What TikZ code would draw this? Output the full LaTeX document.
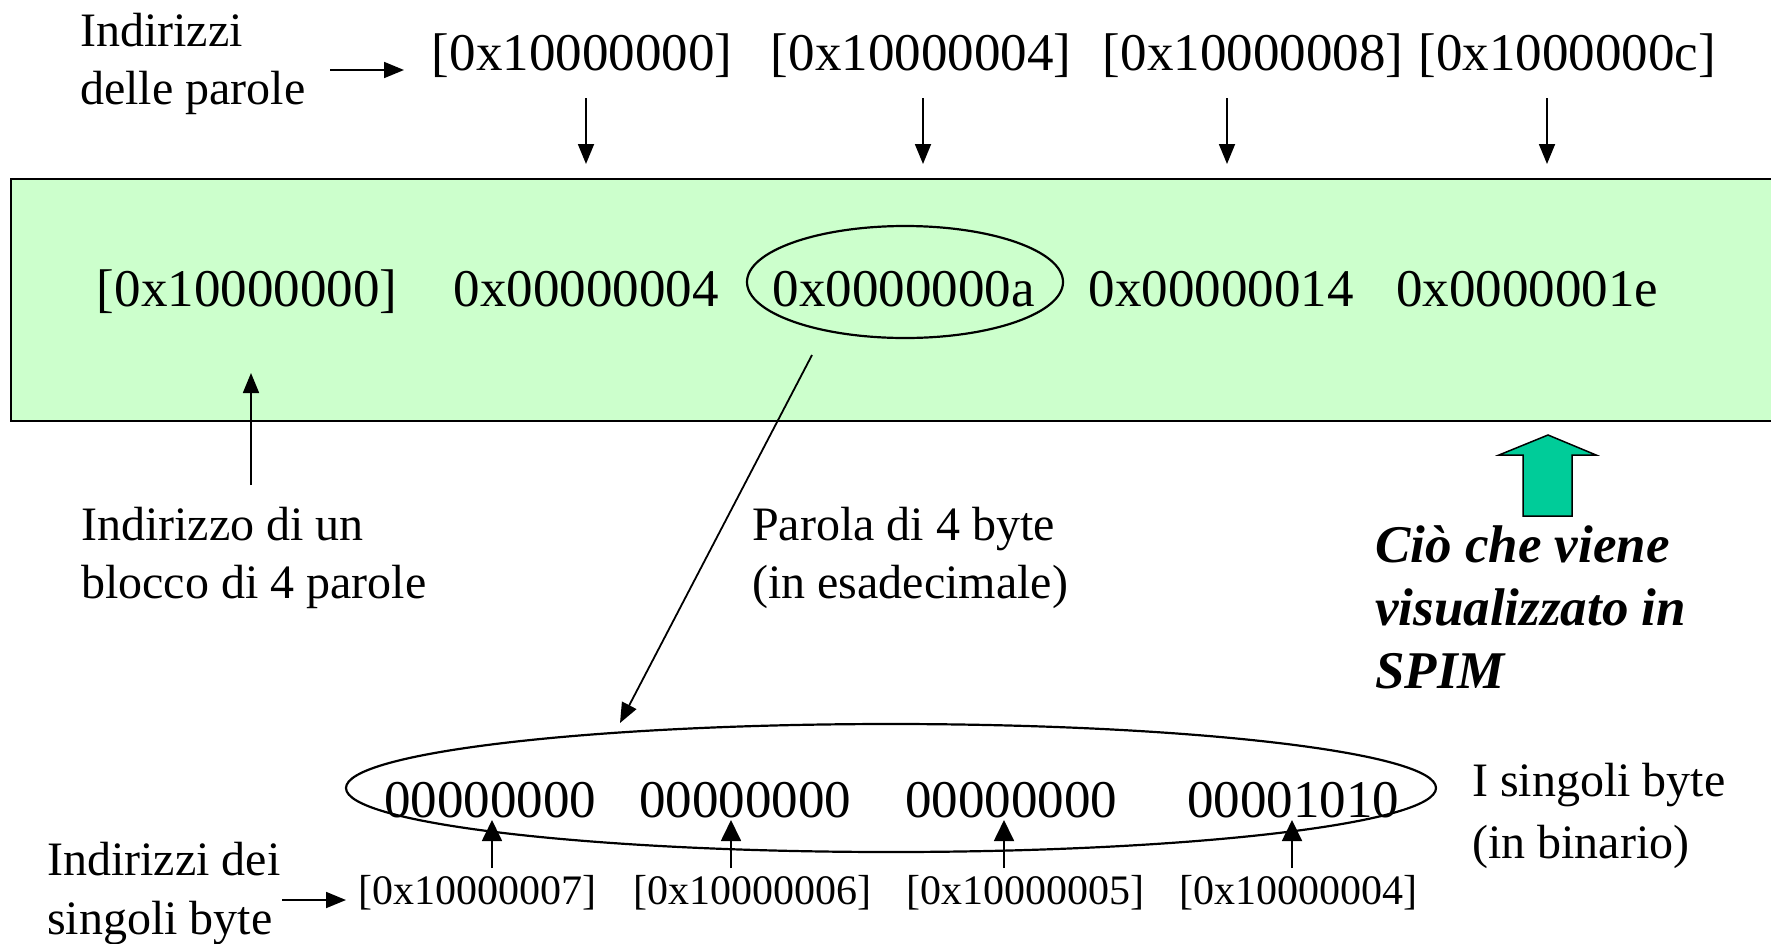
\documentclass[tikz,border=0pt]{standalone}
\usepackage{fontspec}
\setmainfont{Liberation Serif}
\usetikzlibrary{arrows.meta,shapes.geometric}
\definecolor{boxgreen}{HTML}{CCFFCC}
\definecolor{arrowgreen}{HTML}{00CC99}
\tikzset{
  lbl/.style={inner sep=0pt, anchor=base west, font=\fontsize{48}{58}\selectfont},
  hexbig/.style={inner sep=0pt, anchor=base, font=\fontsize{53}{60}\selectfont},
  bytelbl/.style={inner sep=0pt, anchor=base, font=\fontsize{42}{48}\selectfont},
  arr/.style={line width=1.8pt, -{Triangle[length=20pt,width=16pt]}},
  sarr/.style={line width=1.8pt, -{Triangle[length=21pt,width=20pt]}},
  oval/.style={ellipse, draw, line width=2.2pt, inner sep=0pt},
}
\begin{document}
\begin{tikzpicture}[x=1pt,y=-1pt]
\useasboundingbox (0,0) rectangle (1771,943);
\fill[white] (0,0) rectangle (1771,943);

% memory box
\draw[fill=boxgreen, line width=2pt] (11,179) rectangle (1790,421);

% word addresses
\node[lbl] (lp) at (80,46) {\begin{tabular}[t]{@{}l@{}}Indirizzi\\delle parole\end{tabular}};
\node[hexbig] (a0) at (582,70) {[0x10000000]};
\node[hexbig] (a1) at (921,70) {[0x10000004]};
\node[hexbig] (a2) at (1253,70) {[0x10000008]};
\node[hexbig] (a3) at (1567,70) {[0x1000000c]};
\coordinate (lpA) at (330,70);
\coordinate (lpB) at (404,70);
\draw[arr] (lpA) -- (lpB);

\coordinate (d0a) at (586,98);  \coordinate (d0b) at (586,164);
\coordinate (d1a) at (923,98);  \coordinate (d1b) at (923,164);
\coordinate (d2a) at (1227,98); \coordinate (d2b) at (1227,164);
\coordinate (d3a) at (1547,98); \coordinate (d3b) at (1547,164);
\draw[arr] (d0a) -- (d0b);
\draw[arr] (d1a) -- (d1b);
\draw[arr] (d2a) -- (d2b);
\draw[arr] (d3a) -- (d3b);

% words in the box
\node[hexbig] (w0) at (247,306) {[0x10000000]};
\node[hexbig] (w1) at (586,306) {0x00000004};
\node[hexbig] (w2) at (904,306) {0x0000000a};
\node[hexbig] (w3) at (1221,306) {0x00000014};
\node[hexbig] (w4) at (1527,306) {0x0000001e};
\node[oval, minimum width=316pt, minimum height=112pt] (e1) at (905,282) {};

% block address label
\coordinate (ba) at (251,485);
\coordinate (bb) at (251,373);
\draw[arr] (ba) -- (bb);
\node[lbl] (blk) at (81,540) {\begin{tabular}[t]{@{}l@{}}Indirizzo di un\\blocco di 4 parole\end{tabular}};

% word label
\node[lbl] (wl) at (752,540) {\begin{tabular}[t]{@{}l@{}}Parola di 4 byte\\(in esadecimale)\end{tabular}};
\coordinate (pa) at (812,355);
\coordinate (pb) at (620,723);
\draw[arr] (pa) -- (pb);

% green block arrow
\draw[fill=arrowgreen, line width=1.5pt] (1548,435) -- (1596,455) -- (1572,455) -- (1572,516)
  -- (1523,516) -- (1523,455) -- (1499,455) -- cycle;
\node[inner sep=0pt, anchor=base west, font=\fontsize{53}{63}\selectfont\bfseries\itshape] (spim) at (1375,562)
  {\begin{tabular}[t]{@{}l@{}}Ciò che viene\\visualizzato in\\SPIM\end{tabular}};

% bytes
\node[oval, minimum width=1090pt, minimum height=128pt] (e2) at (891,788) {};
\node[hexbig] (b0) at (490,817) {00000000};
\node[hexbig] (b1) at (745,817) {00000000};
\node[hexbig] (b2) at (1011,817) {00000000};
\node[hexbig] (b3) at (1293,817) {00001010};
\node[lbl, font=\fontsize{48}{62}\selectfont] (sb) at (1472,796) {\begin{tabular}[t]{@{}l@{}}I singoli byte\\(in binario)\end{tabular}};

\node[bytelbl] (c0) at (477,904) {[0x10000007]};
\node[bytelbl] (c1) at (752,904) {[0x10000006]};
\node[bytelbl] (c2) at (1025,904) {[0x10000005]};
\node[bytelbl] (c3) at (1298,904) {[0x10000004]};
\coordinate (u0a) at (492,868);  \coordinate (u0b) at (492,820);
\coordinate (u1a) at (731,868);  \coordinate (u1b) at (731,820);
\coordinate (u2a) at (1004,868); \coordinate (u2b) at (1004,820);
\coordinate (u3a) at (1292,868); \coordinate (u3b) at (1292,820);
\draw[sarr] (u0a) -- (u0b);
\draw[sarr] (u1a) -- (u1b);
\draw[sarr] (u2a) -- (u2b);
\draw[sarr] (u3a) -- (u3b);

\node[lbl, font=\fontsize{48}{59}\selectfont] (ib) at (47,875) {\begin{tabular}[t]{@{}l@{}}Indirizzi dei\\singoli byte\end{tabular}};
\coordinate (ia) at (282,900);
\coordinate (ibt) at (346,900);
\draw[arr] (ia) -- (ibt);
\end{tikzpicture}
\end{document}
